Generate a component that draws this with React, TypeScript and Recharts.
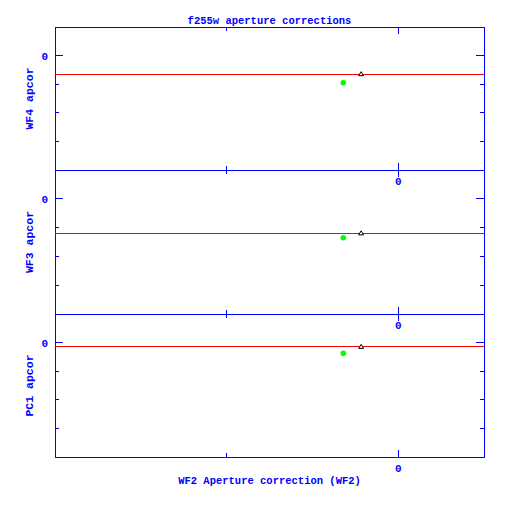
import { ScatterChart, Scatter, XAxis, YAxis, ReferenceLine, ReferenceArea } from 'recharts';

const BLUE = '#0000ff';
const FONT = '"Liberation Mono", "DejaVu Sans Mono", monospace';

// one panel per chip, WF2 apcor along x
const panelNames = ['WF4 apcor', 'WF3 apcor', 'PC1 apcor'];
const panelTops = [27, 170, 314];
const panelBottoms = [170, 314, 457];

const triX = [-0.0108, -0.0108, -0.0108];
const triY = [-0.013, -0.024, -0.003];
const dotX = [-0.016, -0.016, -0.016];
const dotY = [-0.019, -0.027, -0.0075];
const fitY = [-0.013, -0.024, -0.003];

const xDomain = [-0.1, 0.025];
const yDomain = [-0.08, 0.02];
const xTicks = [-0.05, 0];
const yTicks = [-0.06, -0.04, -0.02, 0];

const PLOT_LEFT = 55;
const PLOT_RIGHT = 484;

function XTick(props: any) {
  const { x, y, payload, h, showLabel } = props;
  const major = payload.value === 0;
  const len = major ? 7 : 4;
  return (
    <g stroke={BLUE} shapeRendering="crispEdges">
      <line x1={x} x2={x} y1={y} y2={y - len} />
      <line x1={x} x2={x} y1={y - h} y2={y - h + len} />
      {major && showLabel && (
        <text x={x} y={y + 15} textAnchor="middle" fill={BLUE} stroke="none" fontFamily={FONT} fontSize={11} fontWeight="bold">
          0
        </text>
      )}
    </g>
  );
}

function YTick(props: any) {
  const { x, y, payload, w } = props;
  const major = payload.value === 0;
  const len = major ? 8 : 4;
  return (
    <g stroke={BLUE} shapeRendering="crispEdges">
      <line x1={x} x2={x + len} y1={y} y2={y} />
      <line x1={x + w} x2={x + w - len} y1={y} y2={y} />
      {major && (
        <text x={x - 7} y={y + 4} textAnchor="end" fill={BLUE} stroke="none" fontFamily={FONT} fontSize={11} fontWeight="bold">
          0
        </text>
      )}
    </g>
  );
}

function Dot(p: any) {
  return <circle cx={p.cx} cy={p.cy} r={2.8} fill="#00ff00" />;
}

function Tri(p: any) {
  const { cx, cy } = p;
  return (
    <polygon
      points={`${cx},${cy - 2.5} ${cx + 2.5},${cy + 1.5} ${cx - 2.5},${cy + 1.5}`}
      fill="#fff"
      stroke="#000"
      strokeWidth={1}
    />
  );
}

function Panel({ i }: { i: number }) {
  const top = panelTops[i];
  const bottom = panelBottoms[i];
  const h = bottom - top;
  const w = PLOT_RIGHT - PLOT_LEFT;
  return (
    <div style={{ position: 'absolute', left: 0, top: 0 }}>
      {/* axes get 1px so they still render; ticks are drawn by hand on all four sides */}
      <ScatterChart
        width={512}
        height={512}
        margin={{ top, right: 512 - PLOT_RIGHT, bottom: 512 - bottom - 1, left: PLOT_LEFT - 1 }}
      >
        <XAxis
          type="number"
          dataKey="x"
          domain={xDomain}
          allowDataOverflow
          ticks={xTicks}
          interval={0}
          height={1}
          axisLine={false}
          tickLine={false}
          tickSize={0}
          tickMargin={0}
          tick={(p: any) => <XTick {...p} h={h} showLabel />}
        />
        <YAxis
          type="number"
          dataKey="y"
          domain={yDomain}
          allowDataOverflow
          ticks={yTicks}
          interval={0}
          width={1}
          axisLine={false}
          tickLine={false}
          tickSize={0}
          tickMargin={0}
          tick={(p: any) => <YTick {...p} w={w} />}
        />
        <ReferenceArea
          x1={xDomain[0]}
          x2={xDomain[1]}
          y1={yDomain[0]}
          y2={yDomain[1]}
          fill="none"
          fillOpacity={0}
          stroke={BLUE}
          strokeWidth={1}
          shapeRendering="crispEdges"
        />
        <ReferenceLine y={fitY[i]} stroke="#ff0000" strokeWidth={1} shapeRendering="crispEdges" />
        <Scatter data={[{ x: dotX[i], y: dotY[i] }]} shape={Dot} isAnimationActive={false} />
        <Scatter data={[{ x: triX[i], y: triY[i] }]} shape={Tri} isAnimationActive={false} />
      </ScatterChart>
    </div>
  );
}

export default function App() {
  const midX = (PLOT_LEFT + PLOT_RIGHT) / 2;
  return (
    <div style={{ position: 'absolute', left: 0, top: 0, width: 512, height: 512, background: '#fff' }}>
      {[0, 1, 2].map((i) => (
        <Panel key={i} i={i} />
      ))}
      <svg width={512} height={512} style={{ position: 'absolute', left: 0, top: 0 }}>
        <g fill={BLUE} fontFamily={FONT} fontWeight="bold">
          <text x={midX} y={24} textAnchor="middle" fontSize={10.5}>
            f255w aperture corrections
          </text>
          <text x={midX} y={484} textAnchor="middle" fontSize={10.5}>
            WF2 Aperture correction (WF2)
          </text>
          {panelNames.map((name, i) => (
            <text
              key={name}
              transform={`translate(33, ${(panelTops[i] + panelBottoms[i]) / 2}) rotate(-90)`}
              textAnchor="middle"
              fontSize={11.5}
            >
              {name}
            </text>
          ))}
        </g>
      </svg>
    </div>
  );
}
